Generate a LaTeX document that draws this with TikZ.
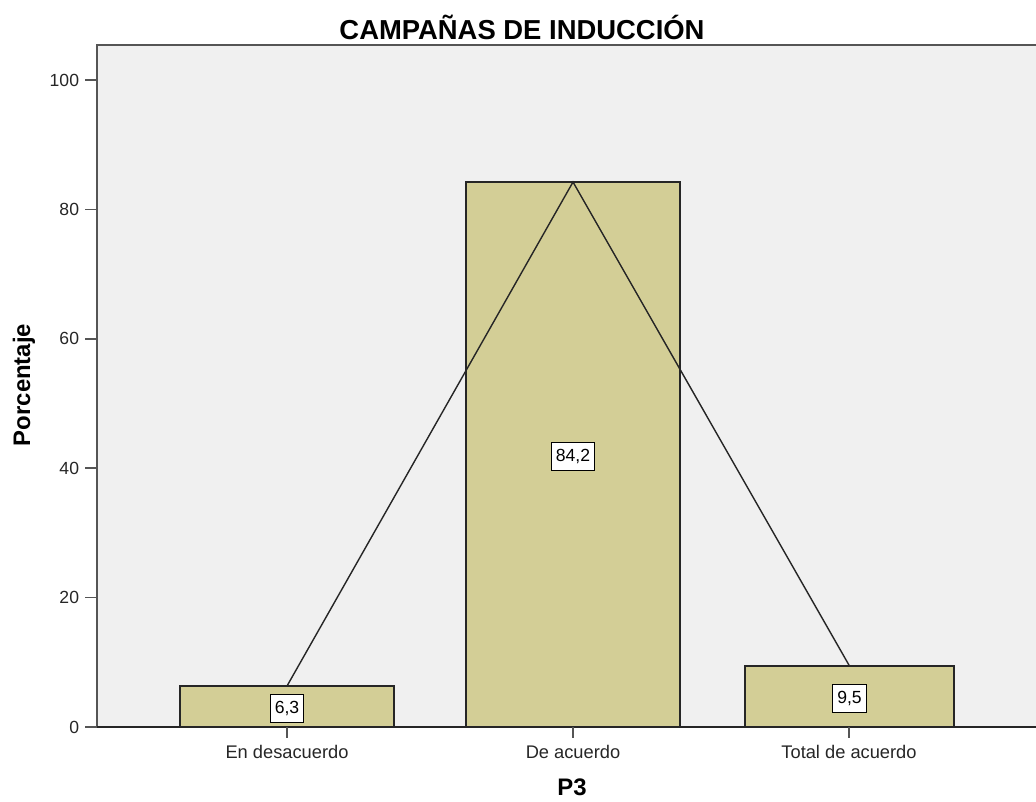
\documentclass[tikz,border=0pt]{standalone}
\usepackage{fontspec}
\setmainfont{Liberation Sans}

\definecolor{barfill}{HTML}{D3CE96}
\definecolor{plotbg}{HTML}{F0F0F0}
\definecolor{framegray}{HTML}{555555}

\tikzset{
  bar/.style={draw=black!85,fill=barfill,line width=1.1pt},
  valbox/.style={draw=black,fill=white,line width=.8pt,inner xsep=3.2pt,inner ysep=5pt,font=\fontsize{12.5}{14}\selectfont},
  ticktext/.style={anchor=east,font=\fontsize{12.5}{14}\selectfont,text=black!85},
  cattext/.style={font=\fontsize{13}{15}\selectfont,text=black!85},
  axistitle/.style={font=\fontsize{17}{19}\selectfont\bfseries,inner sep=1pt},
}

\begin{document}
\begin{tikzpicture}[x=0.025cm,y=-0.025cm]
\useasboundingbox (0,0) rectangle (1036,801);

% plot area
\fill[plotbg] (97,45) rectangle (1036,727);
\draw[framegray,line width=1.4pt] (1036,45) -- (97,45) -- (97,727);

% y axis
\foreach \v in {0,20,...,100}{
  \draw[framegray,line width=1.2pt] (85,727-6.47*\v) -- (97,727-6.47*\v);
  \node[ticktext] at (84,727-6.47*\v) {\v};
}

% bars
\foreach \name/\l/\r/\t/\val in {a/180/394/686/{6,3},b/466/680/182/{84,2},c/745/954/666/{9,5}}{
  \draw[bar] (\l,727) rectangle (\r,\t);
  \coordinate (\name-top) at ({(\l+\r)/2},\t);
  \node[valbox] (\name-val) at ({(\l+\r)/2},{(727+\t)/2+2}) {\val};
}

% line through bar tops
\draw[black!85,line width=1pt] (a-top) -- (b-top) -- (c-top);

% x axis
\draw[black!85,line width=1.4pt] (97,727) -- (1036,727);
\foreach \name/\x/\txt in {a/287/En desacuerdo,b/573/De acuerdo,c/849/Total de acuerdo}{
  \draw[framegray,line width=1.2pt] (\x,727) -- (\x,738);
  \node[cattext] (\name-lab) at (\x,752) {\txt};
}

% titles
\node[font=\fontsize{19.5}{22}\selectfont\bfseries] (title) at (522,27) {CAMPAÑAS DE INDUCCIÓN};
\node[axistitle] (xtitle) at (572,787) {P3};
\node[axistitle,rotate=90] (ytitle) at (24,385) {Porcentaje};
\end{tikzpicture}
\end{document}
